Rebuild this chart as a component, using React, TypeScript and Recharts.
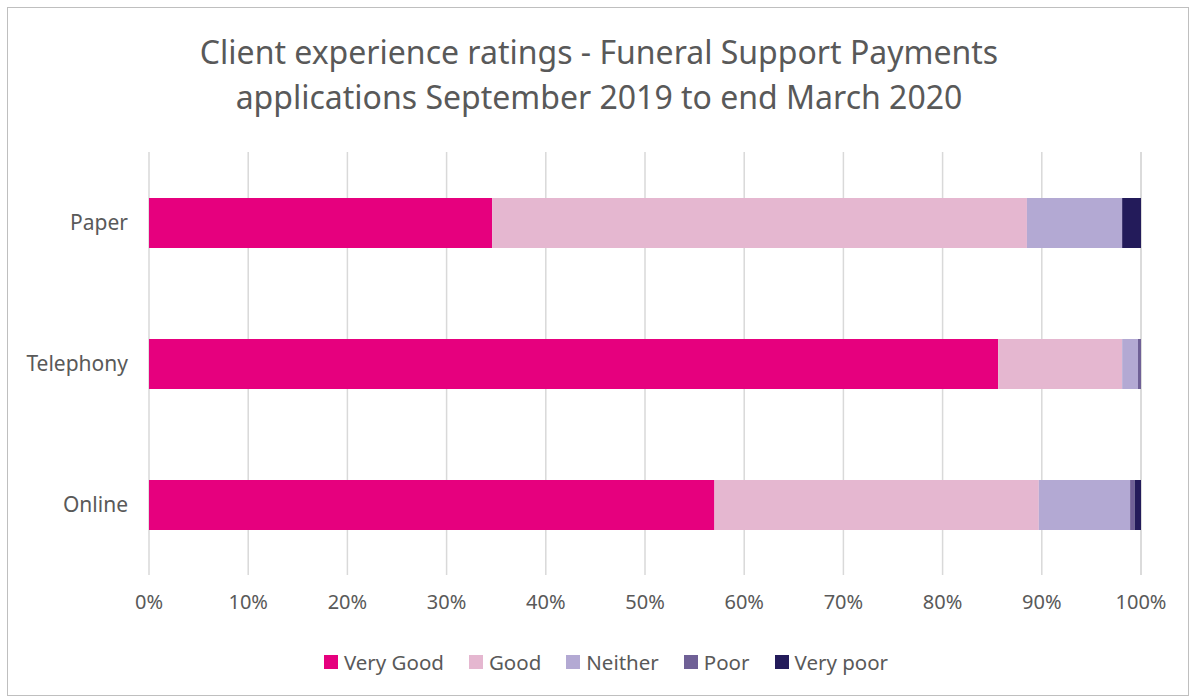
import React from "react";
import { BarChart, Bar, XAxis, YAxis, CartesianGrid, Legend } from "recharts";

const categories = ["Paper", "Telephony", "Online"];
const veryGood = [34.6, 85.6, 57.0];
const good = [53.9, 12.5, 32.7];
const neither = [9.6, 1.6, 9.2];
const poor = [0.0, 0.3, 0.45];
const veryPoor = [1.9, 0.0, 0.65];
const xTicks = [0, 10, 20, 30, 40, 50, 60, 70, 80, 90, 100];

const seriesNames = ["Very Good", "Good", "Neither", "Poor", "Very poor"];
const seriesColors = ["#e6007e", "#e5b7d0", "#b3a9d3", "#6f6096", "#231b5a"];
const seriesValues = [veryGood, good, neither, poor, veryPoor];

const data = categories.map((c, i) => {
  const row: Record<string, string | number> = { category: c };
  seriesNames.forEach((n, s) => {
    row[n] = seriesValues[s][i];
  });
  return row;
});

const FONT = "'Noto Sans', 'Open Sans', sans-serif";
const TEXT = "#595959";

const renderLegend = () => (
  <div
    style={{
      display: "flex",
      justifyContent: "center",
      alignItems: "center",
      height: 26,
      paddingLeft: 64,
      fontFamily: FONT,
      fontSize: 20.5,
      color: TEXT,
    }}
  >
    {seriesNames.map((n, s) => (
      <div key={n} style={{ display: "flex", alignItems: "center", marginRight: s < seriesNames.length - 1 ? 25 : 0 }}>
        <div style={{ width: 14, height: 14, background: seriesColors[s], marginRight: 6 }} />
        <span>{n}</span>
      </div>
    ))}
  </div>
);

export default function App() {
  return (
    <div
      style={{
        position: "absolute",
        left: 7,
        top: 7,
        width: 1182,
        height: 689,
        border: "1px solid #bfbfbf",
        boxSizing: "border-box",
        background: "#fff",
        fontFamily: FONT,
      }}
    >
      <div
        style={{
          position: "absolute",
          left: 0,
          top: 21,
          width: 1182,
          textAlign: "center",
          color: TEXT,
          fontSize: 32,
          lineHeight: "45px",
        }}
      >
        Client experience ratings - Funeral Support Payments
        <br />
        applications September 2019 to end March 2020
      </div>
      <BarChart
        width={1182}
        height={689}
        data={data}
        layout="vertical"
        margin={{ top: 145, right: 48, bottom: 45, left: 0 }}
        barSize={50}
        style={{ position: "absolute", left: -1, top: -1 }}
      >
        <CartesianGrid horizontal={false} stroke="#d9d9d9" strokeWidth={1.5} />
        <XAxis
          type="number"
          domain={[0, 100]}
          ticks={xTicks}
          tickFormatter={(v: number) => `${v}%`}
          axisLine={false}
          tickLine={false}
          tick={{ fill: TEXT, fontSize: 20, fontFamily: FONT }}
          tickMargin={14}
          height={50}
        />
        <YAxis
          type="category"
          dataKey="category"
          axisLine={false}
          tickLine={false}
          width={142}
          tick={{ fill: TEXT, fontSize: 21, fontFamily: FONT }}
          tickMargin={15}
        />
        <Legend verticalAlign="bottom" content={renderLegend} wrapperStyle={{ bottom: 21 }} />
        {seriesNames.map((n, s) => (
          <Bar
            key={n}
            dataKey={n}
            stackId="a"
            fill={seriesColors[s]}
            isAnimationActive={false}
          />
        ))}
      </BarChart>
    </div>
  );
}
